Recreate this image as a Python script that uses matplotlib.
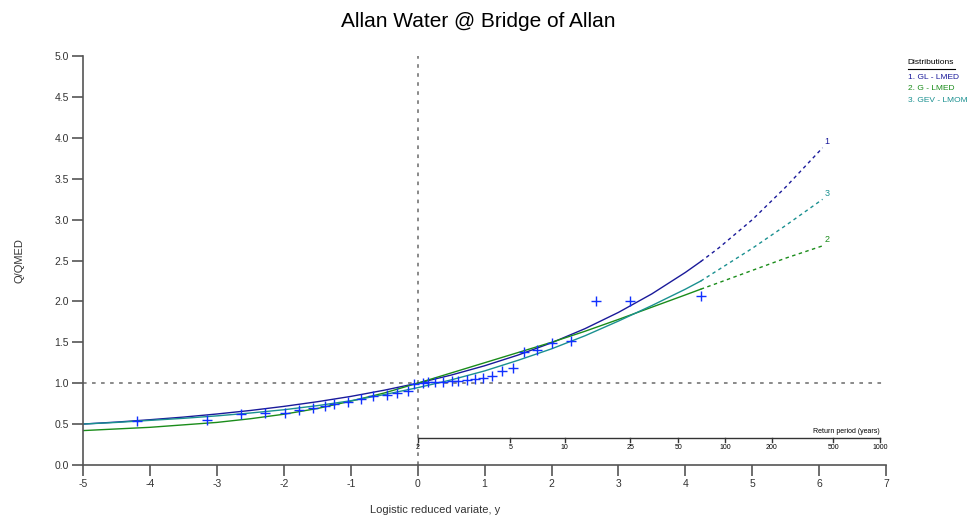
"""
Allan Water @ Bridge of Allan - growth curve on logistic reduced variate
"""

import numpy as np
import matplotlib
matplotlib.use("Agg")
import matplotlib.pyplot as plt

plt.rcParams['font.family'] = ['Liberation Sans', 'DejaVu Sans']
plt.rcParams['axes.unicode_minus'] = False

# annual maxima (plotting positions)
obs_y = [-4.20, -3.15, -2.64, -2.28, -1.98, -1.77, -1.57, -1.39, -1.25, -1.04,
         -0.84, -0.66, -0.46, -0.31, -0.15, -0.05, 0.08, 0.16, 0.26, 0.38,
         0.51, 0.61, 0.73, 0.86, 0.98, 1.11, 1.26, 1.42, 1.59, 1.78,
         2.00, 2.29, 2.66, 3.17, 4.23]
obs_q = [0.54, 0.545, 0.62, 0.635, 0.635, 0.675, 0.695, 0.725, 0.745, 0.775,
         0.805, 0.845, 0.85, 0.88, 0.90, 0.995, 1.00, 1.01, 1.015, 1.02,
         1.025, 1.03, 1.045, 1.05, 1.065, 1.085, 1.155, 1.185, 1.385, 1.405,
         1.49, 1.52, 2.00, 2.01, 2.065]

# fitted growth curves: solid over the data range, dashed extrapolation
fit_y = [-5, -4.5, -4, -3.5, -3, -2.5, -2, -1.5, -1, -0.5, 0, 0.5, 1, 1.5,
         2, 2.5, 3, 3.5, 4, 4.23]
ext_y = [4.23, 4.5, 5, 5.5, 6.05]

gl_fit = [0.50, 0.524, 0.553, 0.585, 0.623, 0.666, 0.716, 0.773, 0.838, 0.914,
          1.0, 1.099, 1.213, 1.344, 1.494, 1.667, 1.866, 2.093, 2.355, 2.488]
gl_ext = [2.488, 2.655, 3.00, 3.40, 3.88]

g_fit = [0.42, 0.44, 0.46, 0.49, 0.52, 0.565, 0.62, 0.69, 0.78, 0.88,
         1.0, 1.125, 1.25, 1.375, 1.50, 1.635, 1.78, 1.93, 2.08, 2.15]
g_ext = [2.15, 2.23, 2.38, 2.53, 2.68]

gev_fit = [0.50, 0.52, 0.545, 0.57, 0.60, 0.635, 0.675, 0.725, 0.785, 0.86,
           0.945, 1.04, 1.15, 1.28, 1.42, 1.58, 1.76, 1.95, 2.15, 2.25]
gev_ext = [2.25, 2.39, 2.65, 2.93, 3.25]

return_periods = [2, 5, 10, 25, 50, 100, 200, 500, 1000]

names = ['1. GL - LMED', '2. G - LMED', '3. GEV - LMOM']
tags = ['1', '2', '3']
colors = ['#1a1a9a', '#1a8c1a', '#1a9090']


def main():
    fig = plt.figure(figsize=(9.77, 5.16), dpi=100)
    ax = fig.add_axes([0.085, 0.099, 0.822, 0.792])
    ax.set_xlim(-5, 7)
    ax.set_ylim(0, 5)

    for s in ['top', 'right']:
        ax.spines[s].set_visible(False)
    for s in ['left', 'bottom']:
        ax.spines[s].set_color('#555555')
        ax.spines[s].set_linewidth(1.2)
    ax.tick_params(direction='out', length=8, width=1.2, color='#555555',
                   labelsize=7.5, labelcolor='#333333', pad=2)
    ax.set_xticks(range(-5, 8))
    ax.set_yticks(np.arange(0, 5.01, 0.5))
    ax.set_yticklabels(['%.1f' % v for v in np.arange(0, 5.01, 0.5)])

    ax.axvline(0, color='#808080', lw=1.3, ls=(0, (2, 3)))
    ax.axhline(1, color='#808080', lw=1.3, ls=(0, (2, 3)), xmax=1.0)

    fits = [(gl_fit, gl_ext), (g_fit, g_ext), (gev_fit, gev_ext)]
    for (sol, ext), c, t in zip(fits, colors, tags):
        ax.plot(fit_y, sol, color=c, lw=1.0)
        ax.plot(ext_y, ext, color=c, lw=1.0, ls=(0, (2.5, 2.5)))
        ax.text(ext_y[-1] + 0.03, ext[-1] + 0.02, t, color=c, fontsize=6.5,
                ha='left', va='bottom')

    ax.plot(obs_y, obs_q, ls='none', marker='+', ms=7, mew=1.0,
            color='#1030ff')

    # return period scale
    rp_x = np.log(np.array(return_periods) - 1.0)
    rp_level = 0.33
    ax.plot([rp_x[0], rp_x[-1]], [rp_level, rp_level], color='#333333', lw=1.0)
    for xv, T in zip(rp_x, return_periods):
        ax.plot([xv, xv], [rp_level, rp_level - 0.05], color='#333333', lw=1.0)
        ax.text(xv, rp_level - 0.08, str(T), fontsize=5, ha='center', va='top')
    ax.text(rp_x[-1], rp_level + 0.03, 'Return period (years)', fontsize=5,
            ha='right', va='bottom')

    ax.set_ylabel('Q/QMED', fontsize=8, color='#333333', labelpad=22)
    fig.text(0.445, 0.012, 'Logistic reduced variate, y', fontsize=8,
             color='#333333', ha='center', va='center')
    fig.text(0.49, 0.958, 'Allan Water @ Bridge of Allan', fontsize=15,
             ha='center', va='center')

    # legend
    fig.text(0.929, 0.878, 'Distributions', fontsize=6, ha='left',
             va='center')
    fig.add_artist(plt.Line2D([0.929, 0.977], [0.866, 0.866], color='black',
                              lw=0.8))
    for i, (n, c) in enumerate(zip(names, colors)):
        fig.text(0.929, 0.850 - i * 0.022, n, fontsize=6, color=c,
                 ha='left', va='center')

    fig.savefig('out.png', dpi=100)


if __name__ == '__main__':
    main()
